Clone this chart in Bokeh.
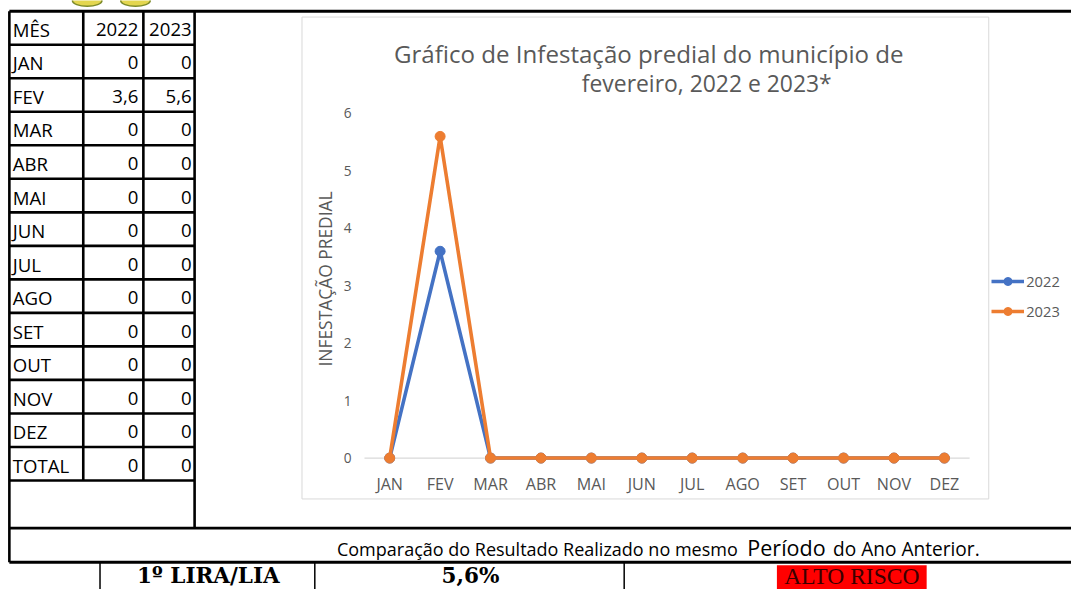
import math
from bokeh.plotting import figure
from bokeh.models import Range1d, LinearAxis, FixedTicker, Legend, LegendItem
from bokeh.core.properties import value
from bokeh.embed import file_html
from bokeh.resources import INLINE

# ---------------- data ----------------
months = ["JAN", "FEV", "MAR", "ABR", "MAI", "JUN", "JUL", "AGO", "SET", "OUT", "NOV", "DEZ"]
years = ["2022", "2023"]
vals_2022 = [0, 3.6, 0, 0, 0, 0, 0, 0, 0, 0, 0, 0]
vals_2023 = [0, 5.6, 0, 0, 0, 0, 0, 0, 0, 0, 0, 0]
totals = [0, 0]
y_ticks = [0, 1, 2, 3, 4, 5, 6]
title_line1 = "Gráfico de Infestação predial do município de"
title_line2 = "fevereiro, 2022 e 2023*"
y_label = "INFESTAÇÃO PREDIAL"
header_first = "MÊS"
total_label = "TOTAL"
compare_parts = ["Comparação do Resultado Realizado no mesmo ", "Período", " do Ano Anterior."]
lira_label = "1º LIRA/LIA"
lira_value = "5,6%"
risk_label = "ALTO RISCO"

C22 = "#4472C4"
C23 = "#ED7D31"
GRAY = "#595959"
FONT = "Open Sans"


def fmt(v):
    return ("%g" % v).replace(".", ",")


# ---------------- page figure (document coordinates 1087 x 605) ----------------
W, H = 1071, 589
DOC_W, DOC_H = 1087, 605
SX = W / DOC_W
SY = H / DOC_H
FS = (SX + SY) / 2


def fs(px):
    return "%.1fpx" % (px * FS)


p = figure(width=W, height=H, x_range=Range1d(0, DOC_W), y_range=Range1d(DOC_H, 0),
           x_axis_type=None, y_axis_type=None, min_border=0,
           toolbar_location=None, output_backend="svg",
           background_fill_color="white", border_fill_color="white")
p.outline_line_color = None
p.grid.visible = False


def lin_range(p0, v0, p1, v1, lo, hi):
    a = (v1 - v0) / (p1 - p0)
    return Range1d(v0 + (lo - p0) * a, v0 + (hi - p0) * a)


# chart scales: JAN -> 395, DEZ -> 958 ; 0 -> 470, 6 -> 116 (document px)
p.extra_x_ranges = {"cx": lin_range(395, 0, 958, len(months) - 1, 0, DOC_W)}
p.extra_y_ranges = {"cy": lin_range(470, 0, 116, 6, DOC_H, 0)}

# ---------------- logo fragments at top ----------------
p.ellipse(x=[88, 137], y=[0, 0], width=[30, 30], height=[12, 12], fill_color="#e3d64f",
          line_color="#7c8a2a", line_width=1.5)

# ---------------- table ----------------
col_x = [9, 84, 145, 197]
row_top, row_h = 11, 34.43
row_labels = [header_first] + months + [total_label]
n_rows = len(row_labels)
row_bounds = [row_top + i * row_h for i in range(n_rows + 1)]
table_bottom = row_bounds[-1]
blank_bottom = 542
compare_bottom = 577

LW = 2.6
p.segment(x0=[col_x[0]] * n_rows, x1=[col_x[-1]] * n_rows,
          y0=row_bounds[1:], y1=row_bounds[1:], line_color="black", line_width=LW)
p.segment(x0=[col_x[0]], x1=[DOC_W], y0=[row_top], y1=[row_top], line_color="black", line_width=3)
p.segment(x0=col_x[1:3], x1=col_x[1:3], y0=[row_top] * 2, y1=[table_bottom] * 2,
          line_color="black", line_width=LW)
p.segment(x0=[col_x[0], col_x[3]], x1=[col_x[0], col_x[3]], y0=[row_top, row_top],
          y1=[compare_bottom, blank_bottom], line_color="black", line_width=LW)
p.segment(x0=[col_x[0], col_x[0]], x1=[DOC_W, DOC_W], y0=[blank_bottom, compare_bottom],
          y1=[blank_bottom, compare_bottom], line_color="black", line_width=[LW, 3])
bottom_cols = [101, 319, 633]
p.segment(x0=bottom_cols, x1=bottom_cols, y0=[compare_bottom] * 3, y1=[DOC_H] * 3,
          line_color="black", line_width=1.5)

row_mid = [row_bounds[i] + row_h / 2 + 1.5 for i in range(n_rows)]
tfont = dict(text_font=value(FONT), text_font_size=fs(19), text_color="black",
             text_baseline="middle")
p.text(x=[12.5] * n_rows, y=row_mid, text=row_labels, text_align="left", **tfont)
col1 = [years[0]] + [fmt(v) for v in vals_2022] + [fmt(totals[0])]
col2 = [years[1]] + [fmt(v) for v in vals_2023] + [fmt(totals[1])]
p.text(x=[140] * n_rows, y=row_mid, text=col1, text_align="right", **tfont)
p.text(x=[194] * n_rows, y=row_mid, text=col2, text_align="right", **tfont)

# ---------------- chart ----------------
p.quad(left=[306], right=[1003], top=[17], bottom=[512], fill_color=None,
       line_color="#d9d9d9", line_width=1)

p.text(x=[658], y=[54], text=[title_line1], text_align="center", text_baseline="middle",
       text_font=value(FONT), text_font_size=fs(24.6), text_color=GRAY)
p.text(x=[590], y=[85], text=[title_line2], text_align="left", text_baseline="middle",
       text_font=value(FONT), text_font_size=fs(23.4), text_color=GRAY)
p.text(x=[329], y=[286], text=[y_label], angle=math.pi / 2, text_align="center",
       text_baseline="middle", text_font=value(FONT), text_font_size=fs(17.8), text_color=GRAY)

xi = list(range(len(months)))
p.segment(x0=[-0.5], x1=[len(months) - 0.5], y0=[0], y1=[0], x_range_name="cx",
          y_range_name="cy", line_color="#d9d9d9", line_width=1.2)

l22 = p.line(xi, vals_2022, x_range_name="cx", y_range_name="cy", line_color=C22, line_width=3.6)
s22 = p.scatter(xi, vals_2022, x_range_name="cx", y_range_name="cy", size=10,
                fill_color=C22, line_color=C22)
l23 = p.line(xi, vals_2023, x_range_name="cx", y_range_name="cy", line_color=C23, line_width=3.6)
s23 = p.scatter(xi, vals_2023, x_range_name="cx", y_range_name="cy", size=10,
                fill_color=C23, line_color=C23)

yax = LinearAxis(x_range_name="cx", y_range_name="cy", ticker=FixedTicker(ticks=y_ticks),
                 fixed_location=-0.5)
xax = LinearAxis(x_range_name="cx", y_range_name="cy", ticker=FixedTicker(ticks=xi),
                 major_label_overrides={i: m for i, m in enumerate(months)}, fixed_location=0)
for ax, fsz, so in ((yax, fs(14), 13), (xax, fs(16.4), 15)):
    ax.axis_line_color = None
    ax.major_tick_line_color = None
    ax.minor_tick_line_color = None
    ax.major_tick_out = 0
    ax.major_tick_in = 0
    ax.minor_tick_out = 0
    ax.major_label_standoff = so
    ax.major_label_text_font = FONT
    ax.major_label_text_font_size = fsz
    ax.major_label_text_color = GRAY
p.add_layout(yax, "left")
p.add_layout(xax, "below")

# legend placed by its bottom-left corner (screen px from the frame's bottom-left)
leg_left = 1006 * SX
leg_top = (288 - 10) * SY
leg_h = 20 + 10 + 20
legend = Legend(items=[LegendItem(label=years[0], renderers=[l22, s22]),
                       LegendItem(label=years[1], renderers=[l23, s23])],
                location=(leg_left, H - leg_top - leg_h), padding=0, margin=0, spacing=10,
                glyph_width=33, glyph_height=20, label_height=20, label_standoff=2,
                label_text_font=FONT, label_text_font_size=fs(15), label_text_color=GRAY,
                background_fill_alpha=0, border_line_color=None)
p.add_layout(legend)

# ---------------- comparison row ----------------
cy_txt = 563
p.text(x=[753], y=[cy_txt], text=[compare_parts[0]], text_align="right", text_baseline="middle",
       text_font=value(FONT), text_font_size=fs(18.4), text_color="black")
p.text(x=[758], y=[cy_txt - 1], text=[compare_parts[1]], text_align="left", text_baseline="middle",
       text_font=value(FONT), text_font_size=fs(22), text_color="black")
p.text(x=[845], y=[cy_txt], text=[compare_parts[2]], text_align="left", text_baseline="middle",
       text_font=value(FONT), text_font_size=fs(19.5), text_color="black")

# ---------------- bottom row ----------------
p.quad(left=[788], right=[940], top=[580], bottom=[DOC_H], fill_color="#ff0000", line_color=None)
p.text(x=[211, 477], y=[591, 591], text=[lira_label, lira_value], text_align="center",
       text_baseline="middle", text_font=value("DejaVu Serif"), text_font_style="bold",
       text_font_size=fs(22), text_color="black")
p.text(x=[864], y=[591], text=[risk_label], text_align="center", text_baseline="middle",
       text_font=value("Liberation Serif"), text_font_size=fs(24), text_color="#3a0000")

open("out.html", "w").write(file_html(p, INLINE))
